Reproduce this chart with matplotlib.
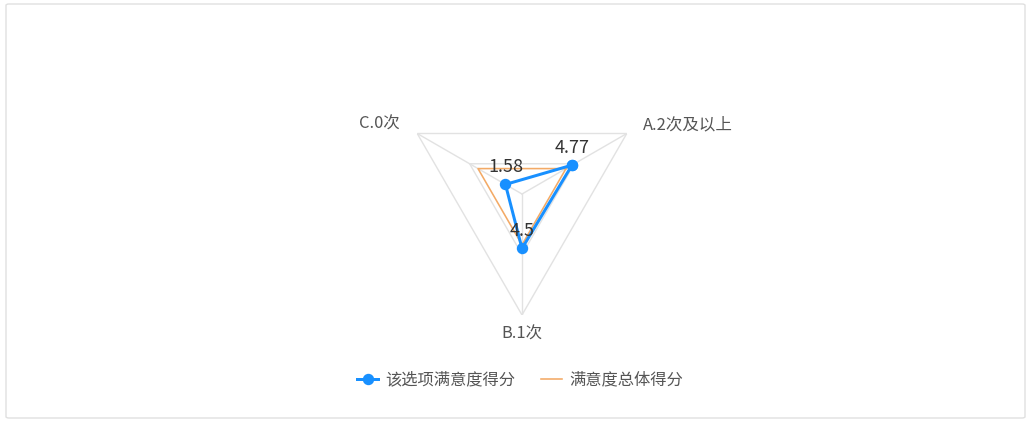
import numpy as np
import matplotlib
matplotlib.use("Agg")
import matplotlib.pyplot as plt
from matplotlib.patches import FancyBboxPatch

plt.rcParams["font.family"] = ["Noto Sans CJK SC", "DejaVu Sans"]

# data
categories = ["A.2次及以上", "B.1次", "C.0次"]
option_scores = [4.77, 4.5, 1.58]
overall_scores = [4.2, 4.2, 4.2]
max_score = 10
series_names = ["该选项满意度得分", "满意度总体得分"]

BLUE = "#1890ff"
ORANGE = "#f3aa66"
GRID = "#e2e2e2"
PX = 0.72  # points per pixel at dpi 100


def closed(vals):
    return list(vals) + [vals[0]]


def main():
    fig = plt.figure(figsize=(10.27, 4.21), dpi=100)

    # light rounded frame around the chart
    frame = FancyBboxPatch((6 / 1027, 3 / 421), 1019 / 1027, 414 / 421,
                           boxstyle="round,pad=0,rounding_size=0.003",
                           transform=fig.transFigure, fill=False,
                           edgecolor="#e0e0e0", linewidth=1.0)
    fig.patches.append(frame)

    # polar axes centred at (522, 194) px with radius 121 px
    cx, cy, R = 522, 194, 121
    ax = fig.add_axes([(cx - R) / 1027, (421 - cy - R) / 421, 2 * R / 1027, 2 * R / 421],
                      projection="polar")
    ax.set_theta_direction(-1)
    ax.set_theta_offset(np.deg2rad(30))
    ax.set_ylim(0, max_score)
    ax.grid(False)
    ax.spines["polar"].set_visible(False)
    ax.set_xticks([])
    ax.set_yticks([])
    ax.patch.set_alpha(0)

    angles = np.linspace(0, 2 * np.pi, len(categories), endpoint=False)
    ang_c = closed(angles)

    # polygon grid: two levels and spokes
    for level in (max_score / 2, max_score):
        ax.plot(ang_c, [level] * len(ang_c), color=GRID, lw=1.4 * PX, zorder=1)
    for a in angles:
        ax.plot([a, a], [0, max_score], color=GRID, lw=1.4 * PX, zorder=1)

    ax.plot(ang_c, closed(overall_scores), color=ORANGE, lw=1.6 * PX, zorder=2,
            label=series_names[1])
    ax.plot(ang_c, closed(option_scores), color=BLUE, lw=3 * PX, marker="o",
            markersize=10 * PX, zorder=3, label=series_names[0])

    for a, v in zip(angles, option_scores):
        ax.annotate(f"{v:g}", xy=(a, v), xytext=(0, 17), textcoords="offset pixels",
                    ha="center", va="center", fontsize=18 * PX, color="#333333", zorder=4)

    # axis names
    offsets = [((16, 9), "left"), ((0, -19), "center"), ((-17, 9), "right")]
    for a, name, (off, ha) in zip(angles, categories, offsets):
        ax.annotate(name, xy=(a, max_score), xytext=off, textcoords="offset pixels",
                    ha=ha, va="center", fontsize=16.5 * PX, color="#555555",
                    annotation_clip=False)

    handles, labels = ax.get_legend_handles_labels()
    handles, labels = handles[::-1], labels[::-1]
    fig.legend(handles, labels, loc="center", bbox_to_anchor=(520 / 1027, 41 / 421),
               ncol=2, frameon=False, fontsize=16.3 * PX, handlelength=1.25,
               handletextpad=0.45, columnspacing=1.6, labelcolor="#555555")

    fig.savefig("out.png", dpi=100)
    plt.close(fig)


if __name__ == "__main__":
    main()
